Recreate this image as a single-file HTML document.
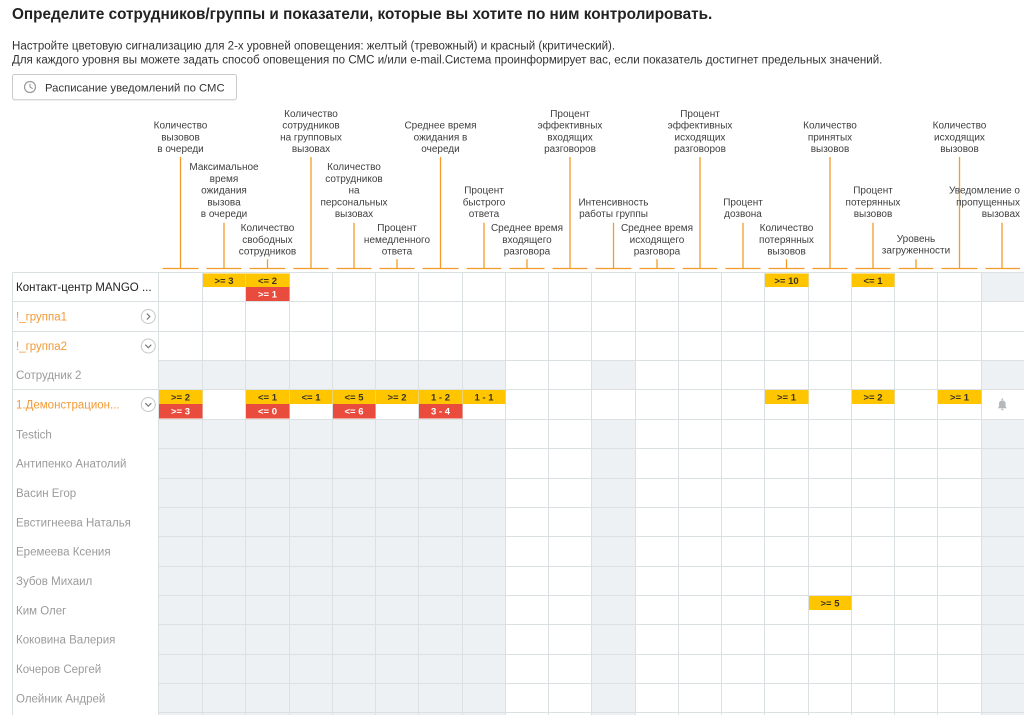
<!DOCTYPE html>
<html><head><meta charset="utf-8">
<style>
html,body{margin:0;padding:0;background:#fff;}
body{width:1024px;height:715px;overflow:hidden;position:relative;}
svg{position:absolute;left:0;top:0;}
text{font-family:"Liberation Sans","Noto Sans CJK SC",sans-serif;}
.h{font-size:10px;fill:#3f3f3f;text-anchor:middle;}
.lbl{font-size:11.5px;}
.b{font-size:9.5px;font-weight:bold;text-anchor:middle;}
</style></head>
<body>
<svg width="1024" height="715" viewBox="0 0 1024 715" xmlns="http://www.w3.org/2000/svg">
<!-- Title & intro -->
<text x="12" y="19" style="font-size:15.3px;font-weight:bold;fill:#222">Определите сотрудников/группы и показатели, которые вы хотите по ним контролировать.</text>
<text x="12" y="49.5" style="font-size:11.55px;fill:#333">Настройте цветовую сигнализацию для 2-х уровней оповещения: желтый (тревожный) и красный (критический).</text>
<text x="12" y="63.5" style="font-size:11.55px;fill:#333">Для каждого уровня вы можете задать способ оповещения по СМС и/или e-mail.Система проинформирует вас, если показатель достигнет предельных значений.</text>
<!-- Button -->
<rect x="12.5" y="74.5" width="224" height="25" rx="2" fill="#fff" stroke="#cacaca"/>
<line x1="13" y1="100" x2="236" y2="100" stroke="#e2e2e2"/>
<circle cx="30" cy="87" r="5.5" fill="none" stroke="#9a9a9a" stroke-width="1.2"/>
<polyline points="30,83.8 30,87 32.6,88.6" fill="none" stroke="#9a9a9a" stroke-width="1.1"/>
<text x="45" y="91.5" style="font-size:11.3px;fill:#333">Расписание уведомлений по СМС</text>

<!-- Grey cells -->
<g fill="#eef1f3">
<rect x="981.5" y="272.5" width="42.5" height="29"/>
<rect x="158.5" y="360.5" width="347" height="29"/>
<rect x="591.5" y="360.5" width="44" height="29"/>
<rect x="981.5" y="360.5" width="42.5" height="29"/>
<rect x="158.5" y="419.5" width="347" height="296"/>
<rect x="591.5" y="419.5" width="44" height="296"/>
<rect x="981.5" y="419.5" width="42.5" height="296"/>
</g>

<!-- Grid -->
<g stroke="#dbe0e3" stroke-width="1" fill="none">
<path d="M12.5 272.5V715 M158.5 272.5V715 M202.5 272.5V715 M245.5 272.5V715 M289.5 272.5V715 M332.5 272.5V715 M375.5 272.5V715 M418.5 272.5V715 M462.5 272.5V715 M505.5 272.5V715 M548.5 272.5V715 M591.5 272.5V715 M635.5 272.5V715 M678.5 272.5V715 M721.5 272.5V715 M764.5 272.5V715 M808.5 272.5V715 M851.5 272.5V715 M894.5 272.5V715 M937.5 272.5V715 M981.5 272.5V715"/>
<path d="M12.5 272.5H1024 M12.5 301.5H1024 M12.5 331.5H1024 M158.5 360.5H1024 M12.5 389.5H1024 M158.5 419.5H1024 M158.5 448.5H1024 M158.5 478.5H1024 M158.5 507.5H1024 M158.5 536.5H1024 M158.5 566.5H1024 M158.5 595.5H1024 M158.5 624.5H1024 M158.5 654.5H1024 M158.5 683.5H1024 M158.5 712.5H1024"/>
</g>

<!-- Orange header lines -->
<g stroke="#f39a2a" stroke-width="1.3" fill="none">
<path d="M162.5 268.5H198.5 M206.5 268.5H241.5 M249.5 268.5H285.5 M293.5 268.5H328.5 M336.5 268.5H371.5 M379.5 268.5H414.5 M422.5 268.5H458.5 M466.5 268.5H501.5 M509.5 268.5H544.5 M552.5 268.5H587.5 M595.5 268.5H631.5 M639.5 268.5H674.5 M682.5 268.5H717.5 M725.5 268.5H760.5 M768.5 268.5H804.5 M812.5 268.5H847.5 M855.5 268.5H890.5 M898.5 268.5H933.5 M941.5 268.5H977.5 M985.5 268.5H1020"/>
<path d="M180.5 157V268.5 M224 222.7V268.5 M267.5 259.3V268.5 M311 157V268.5 M354 222.7V268.5 M397 259.3V268.5 M440.5 157V268.5 M484 222.7V268.5 M527 259.3V268.5 M570 157V268.5 M613.5 222.7V268.5 M657 259.3V268.5 M700 157V268.5 M743 222.7V268.5 M786.5 259.3V268.5 M830 157V268.5 M873 222.7V268.5 M916 259.3V268.5 M959.5 157V268.5 M1002 222.7V268.5"/>
</g>

<!-- Header texts -->
<text class="h" x="180.5" y="128.6"><tspan x="180.5">Количество</tspan><tspan x="180.5" dy="11.7">вызовов</tspan><tspan x="180.5" dy="11.7">в очереди</tspan></text>
<text class="h" x="224" y="170.2"><tspan x="224">Максимальное</tspan><tspan x="224" dy="11.7">время</tspan><tspan x="224" dy="11.7">ожидания</tspan><tspan x="224" dy="11.7">вызова</tspan><tspan x="224" dy="11.7">в очереди</tspan></text>
<text class="h" x="267.5" y="231.1"><tspan x="267.5">Количество</tspan><tspan x="267.5" dy="11.7">свободных</tspan><tspan x="267.5" dy="11.7">сотрудников</tspan></text>
<text class="h" x="311" y="116.9"><tspan x="311">Количество</tspan><tspan x="311" dy="11.7">сотрудников</tspan><tspan x="311" dy="11.7">на групповых</tspan><tspan x="311" dy="11.7">вызовах</tspan></text>
<text class="h" x="354" y="170.2"><tspan x="354">Количество</tspan><tspan x="354" dy="11.7">сотрудников</tspan><tspan x="354" dy="11.7">на</tspan><tspan x="354" dy="11.7">персональных</tspan><tspan x="354" dy="11.7">вызовах</tspan></text>
<text class="h" x="397" y="231.1"><tspan x="397">Процент</tspan><tspan x="397" dy="11.7">немедленного</tspan><tspan x="397" dy="11.7">ответа</tspan></text>
<text class="h" x="440.5" y="128.6"><tspan x="440.5">Среднее время</tspan><tspan x="440.5" dy="11.7">ожидания в</tspan><tspan x="440.5" dy="11.7">очереди</tspan></text>
<text class="h" x="484" y="193.6"><tspan x="484">Процент</tspan><tspan x="484" dy="11.7">быстрого</tspan><tspan x="484" dy="11.7">ответа</tspan></text>
<text class="h" x="527" y="231.1"><tspan x="527">Среднее время</tspan><tspan x="527" dy="11.7">входящего</tspan><tspan x="527" dy="11.7">разговора</tspan></text>
<text class="h" x="570" y="116.9"><tspan x="570">Процент</tspan><tspan x="570" dy="11.7">эффективных</tspan><tspan x="570" dy="11.7">входящих</tspan><tspan x="570" dy="11.7">разговоров</tspan></text>
<text class="h" x="613.5" y="205.3"><tspan x="613.5">Интенсивность</tspan><tspan x="613.5" dy="11.7">работы группы</tspan></text>
<text class="h" x="657" y="231.1"><tspan x="657">Среднее время</tspan><tspan x="657" dy="11.7">исходящего</tspan><tspan x="657" dy="11.7">разговора</tspan></text>
<text class="h" x="700" y="116.9"><tspan x="700">Процент</tspan><tspan x="700" dy="11.7">эффективных</tspan><tspan x="700" dy="11.7">исходящих</tspan><tspan x="700" dy="11.7">разговоров</tspan></text>
<text class="h" x="743" y="205.3"><tspan x="743">Процент</tspan><tspan x="743" dy="11.7">дозвона</tspan></text>
<text class="h" x="786.5" y="231.1"><tspan x="786.5">Количество</tspan><tspan x="786.5" dy="11.7">потерянных</tspan><tspan x="786.5" dy="11.7">вызовов</tspan></text>
<text class="h" x="830" y="128.6"><tspan x="830">Количество</tspan><tspan x="830" dy="11.7">принятых</tspan><tspan x="830" dy="11.7">вызовов</tspan></text>
<text class="h" x="873" y="193.6"><tspan x="873">Процент</tspan><tspan x="873" dy="11.7">потерянных</tspan><tspan x="873" dy="11.7">вызовов</tspan></text>
<text class="h" x="916" y="242"><tspan x="916">Уровень</tspan><tspan x="916" dy="11.7">загруженности</tspan></text>
<text class="h" x="959.5" y="128.6"><tspan x="959.5">Количество</tspan><tspan x="959.5" dy="11.7">исходящих</tspan><tspan x="959.5" dy="11.7">вызовов</tspan></text>
<text class="h" x="1020" y="193.6" style="text-anchor:end"><tspan x="1020">Уведомление о</tspan><tspan x="1020" dy="11.7">пропущенных</tspan><tspan x="1020" dy="11.7">вызовах</tspan></text>

<!-- Row labels -->
<text class="lbl" x="16" y="291" fill="#222">Контакт-центр MANGO ...</text>
<text class="lbl" x="16" y="320.5" fill="#f29a35">!_группа1</text>
<text class="lbl" x="16" y="350" fill="#f29a35">!_группа2</text>
<text class="lbl" x="16" y="379" fill="#9b9b9b">Сотрудник 2</text>
<text class="lbl" x="16" y="408.5" fill="#f29a35">1.Демонстрацион...</text>
<text class="lbl" x="16" y="438.3" fill="#9b9b9b">Testich</text>
<text class="lbl" x="16" y="467.6" fill="#9b9b9b">Антипенко Анатолий</text>
<text class="lbl" x="16" y="497" fill="#9b9b9b">Васин Егор</text>
<text class="lbl" x="16" y="526.3" fill="#9b9b9b">Евстигнеева Наталья</text>
<text class="lbl" x="16" y="555.6" fill="#9b9b9b">Еремеева Ксения</text>
<text class="lbl" x="16" y="585" fill="#9b9b9b">Зубов Михаил</text>
<text class="lbl" x="16" y="614.3" fill="#9b9b9b">Ким Олег</text>
<text class="lbl" x="16" y="643.6" fill="#9b9b9b">Коковина Валерия</text>
<text class="lbl" x="16" y="673" fill="#9b9b9b">Кочеров Сергей</text>
<text class="lbl" x="16" y="702.3" fill="#9b9b9b">Олейник Андрей</text>

<!-- Expand icons -->
<g fill="#fff" stroke="#c6c6c6" stroke-width="1">
<circle cx="148.3" cy="316.5" r="7"/>
<circle cx="148.3" cy="346" r="7"/>
<circle cx="148.3" cy="404.5" r="7"/>
</g>
<g fill="none" stroke="#777" stroke-width="1.2">
<polyline points="146.8,313.5 149.8,316.5 146.8,319.5"/>
<polyline points="145.3,344.7 148.3,347.7 151.3,344.7"/>
<polyline points="145.3,403.2 148.3,406.2 151.3,403.2"/>
</g>

<!-- Badges -->
<g fill="#ffc600">
<rect x="203" y="273.5" width="42.5" height="13.5"/>
<rect x="246" y="273.5" width="43.5" height="13.5"/>
<rect x="765" y="273.5" width="43.5" height="13.5"/>
<rect x="852" y="273.5" width="42.5" height="13.5"/>
<rect x="159" y="390" width="43.5" height="14"/>
<rect x="246" y="390" width="43.5" height="14"/>
<rect x="290" y="390" width="42.5" height="14"/>
<rect x="333" y="390" width="42.5" height="14"/>
<rect x="376" y="390" width="42.5" height="14"/>
<rect x="419" y="390" width="43.5" height="14"/>
<rect x="463" y="390" width="42.5" height="14"/>
<rect x="765" y="390" width="43.5" height="14"/>
<rect x="852" y="390" width="42.5" height="14"/>
<rect x="938" y="390" width="43.5" height="14"/>
<rect x="809" y="596" width="42.5" height="14"/>
</g>
<g fill="#e94b3c">
<rect x="246" y="287" width="43.5" height="14"/>
<rect x="159" y="404" width="43.5" height="14.5"/>
<rect x="246" y="404" width="43.5" height="14.5"/>
<rect x="333" y="404" width="42.5" height="14.5"/>
<rect x="419" y="404" width="43.5" height="14.5"/>
</g>
<g fill="#3a3320">
<text class="b" x="224" y="283.8">&gt;= 3</text>
<text class="b" x="267.5" y="283.8">&lt;= 2</text>
<text class="b" x="786.5" y="283.8">&gt;= 10</text>
<text class="b" x="873" y="283.8">&lt;= 1</text>
<text class="b" x="180.5" y="400.5">&gt;= 2</text>
<text class="b" x="267.5" y="400.5">&lt;= 1</text>
<text class="b" x="311" y="400.5">&lt;= 1</text>
<text class="b" x="354" y="400.5">&lt;= 5</text>
<text class="b" x="397" y="400.5">&gt;= 2</text>
<text class="b" x="440.5" y="400.5">1 - 2</text>
<text class="b" x="484" y="400.5">1 - 1</text>
<text class="b" x="786.5" y="400.5">&gt;= 1</text>
<text class="b" x="873" y="400.5">&gt;= 2</text>
<text class="b" x="959.5" y="400.5">&gt;= 1</text>
<text class="b" x="830" y="606.5">&gt;= 5</text>
</g>
<g fill="#fff">
<text class="b" x="267.5" y="297.5">&gt;= 1</text>
<text class="b" x="180.5" y="414.7">&gt;= 3</text>
<text class="b" x="267.5" y="414.7">&lt;= 0</text>
<text class="b" x="354" y="414.7">&lt;= 6</text>
<text class="b" x="440.5" y="414.7">3 - 4</text>
</g>

<!-- Bell -->
<g fill="#b3b8bb">
<circle cx="1002.3" cy="399.3" r="0.9"/>
<path d="M997.8 408.2 H1006.8 L1005.6 406.6 V403.6 A3.3 3.3 0 0 0 999 403.6 V406.6 Z"/>
<rect x="1001.2" y="408.6" width="2.2" height="1.6" rx="0.8"/>
</g>
</svg>
</body></html>
